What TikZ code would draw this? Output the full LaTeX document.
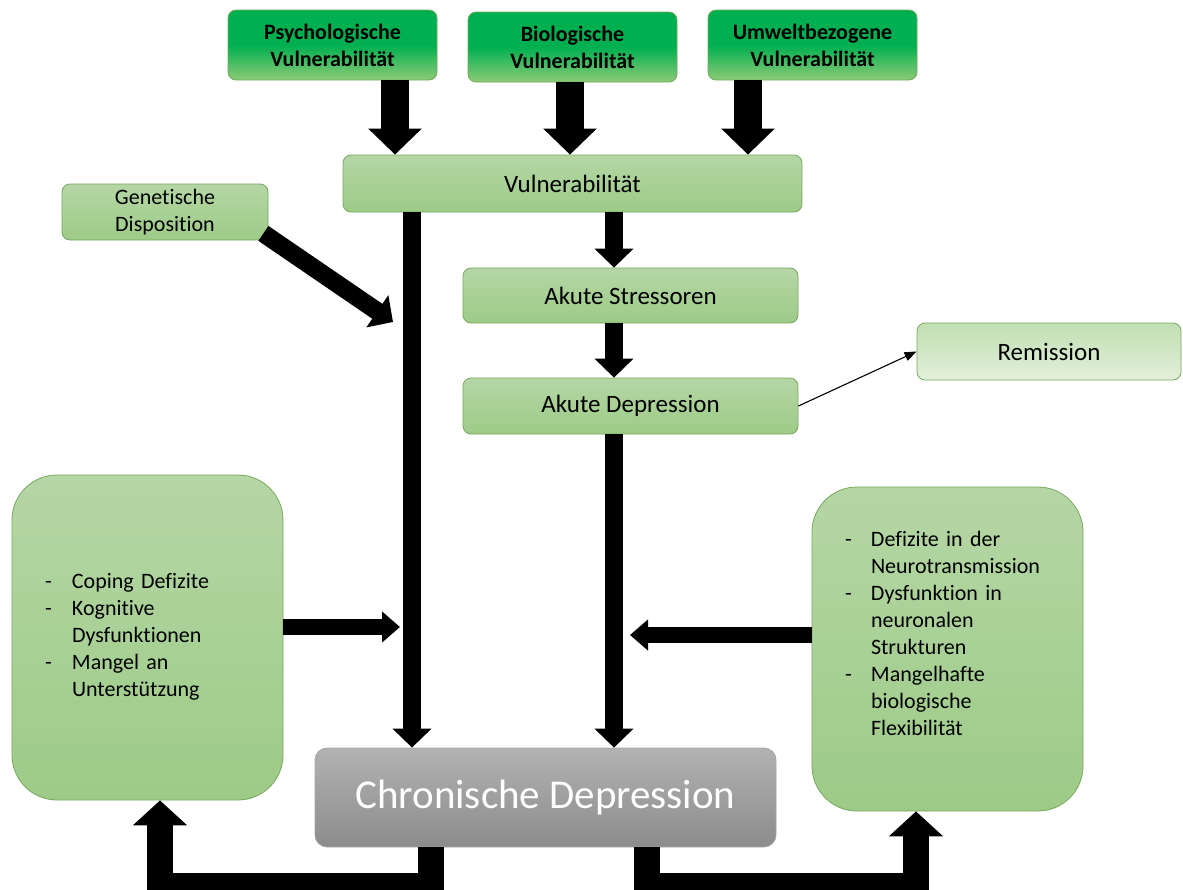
\documentclass[tikz,border=0pt]{standalone}
\usepackage{fontspec}
\setmainfont{Carlito}[Ligatures=NoCommon]
\usepackage{array}
\usetikzlibrary{calc}
\usetikzlibrary{positioning}
\usetikzlibrary{arrows.meta}
\definecolor{vgreen}{RGB}{0,176,80}
\definecolor{vgreenlow}{RGB}{140,202,118}
\definecolor{boxtop}{RGB}{181,214,165}
\definecolor{boxbottom}{RGB}{157,203,135}
\definecolor{boxline}{RGB}{118,168,95}
\definecolor{remtop}{RGB}{193,223,178}
\definecolor{rembottom}{RGB}{226,240,218}
\definecolor{chrontop}{RGB}{178,178,178}
\definecolor{chronbottom}{RGB}{140,140,140}
\def\bigfont{\fontsize{25}{30}\selectfont}
\def\smallfont{\fontsize{22}{27}\selectfont}

\begin{document}
\begin{tikzpicture}[x=1pt,y=-1pt,line join=miter,
	  base node/.style={rectangle,draw=boxline,line width=0.8pt,rounded corners=8pt,inner sep=0pt,align=center,
	    top color=boxtop,bottom color=boxbottom,font=\bigfont},
	  top node/.style={base node,top color=vgreen,bottom color=vgreenlow,middle color=vgreen,
	    minimum width=209pt,minimum height=70pt,font=\smallfont\bfseries},
	  list node/.style={base node,rounded corners=45pt,minimum width=271pt,minimum height=324pt,
	    text width=205pt,inner xsep=33pt,align=left,font=\smallfont},
	  fat edge/.style={-{Triangle[length=26pt,width=52pt]},line width=28pt},
	  mid edge/.style={-{Triangle[length=19pt,width=38pt]},line width=18pt},
	  side edge/.style={-{Triangle[length=18pt,width=30pt]},line width=16pt},
	  loop edge/.style={-{Triangle[length=25pt,width=53pt]},line width=26pt},
	  thin edge/.style={-{Triangle[length=12pt,width=9pt]},line width=1.1pt}]

	  \clip (0,0) rectangle (1183,889);

	  \node[top node] (psych) at (332.5,45) {Psychologische\\Vulnerabilität};
	  \node[top node] (bio) at (572.5,47) {Biologische\\Vulnerabilität};
	  \node[top node] (umwelt) at (812.5,45) {Umweltbezogene\\Vulnerabilität};
	  \node[base node,minimum width=459pt,minimum height=57pt] (vuln) at (572.5,183.5) {Vulnerabilität};
	  \node[base node,minimum width=206pt,minimum height=56pt,font=\smallfont] (gen) at (165,212) {Genetische\\Disposition};
	  \node[base node,minimum width=335pt,minimum height=55pt] (stress) at (630.5,295.5) {Akute Stressoren};
	  \node[base node,minimum width=335pt,minimum height=56pt] (akdep) at (630.5,406) {Akute Depression};
	  \node[base node,top color=remtop,bottom color=rembottom,minimum width=264pt,minimum height=57pt] (remis) at (1049,351.5) {Remission};
	  \node[list node,minimum height=325pt] (left) at (147.5,637.5) {%
	    \begin{tabular}{@{}p{27pt}@{}l@{}}
	    - & Coping Defizite\\
	    - & Kognitive\\
	      & Dysfunktionen\\
	    - & Mangel an\\
	      & Unterstützung
	    \end{tabular}};
	  \node[list node] (right) at (947.5,649) {%
	    \begin{tabular}{@{}p{26pt}@{}l@{}}
	    - & Defizite in der\\
	      & Neurotransmission\\
	    - & Dysfunktion in\\
	      & neuronalen\\
	      & Strukturen\\
	    - & Mangelhafte\\
	      & biologische\\
	      & Flexibilität\\
	      &
	    \end{tabular}};
	  \node[base node,rounded corners=12pt,top color=chrontop,bottom color=chronbottom,draw=gray!70,
	    minimum width=461pt,minimum height=99pt,text=white,font=\fontsize{41}{48}\selectfont] (chron) at (545.5,797.5) {Chronische Depression};

	  \coordinate (genhit) at (393,322);
	  \coordinate (lefthit) at (400,627);
	  \coordinate (righthit) at (630,635);

	  \path[fat edge]
	    	([xshift=62.5pt]psych.south) 	edge 	([xshift=62.5pt]psych.south |- vuln.north)
	 	([xshift=-2.5pt]bio.south) 	edge 	([xshift=-2.5pt]bio.south |- vuln.north)
	 	([xshift=-64.5pt]umwelt.south) 	edge 	([xshift=-64.5pt]umwelt.south |- vuln.north);

	  \path[mid edge]
	    	([xshift=41.5pt]vuln.south) 	edge 	([xshift=-16.5pt]stress.north)
	 	([xshift=-16.5pt]stress.south) 	edge 	([xshift=-16.5pt]akdep.north)
	 	([xshift=-16.5pt]akdep.south) 	edge 	([xshift=68.5pt]chron.north)
	 	([xshift=-160.5pt]vuln.south) 	edge 	([xshift=-133.5pt]chron.north)
	 	($ (gen.south east) + (-5,-7) $) edge 	(genhit);

	  \path[side edge]
	    	([yshift=10.5pt]left.east) 	edge 	(lefthit)
	 	([yshift=14pt]right.west) 	edge 	(righthit);

	  \draw[loop edge] ([xshift=-114.5pt]chron.south) -- ++(0,39) -| ([xshift=12.5pt]left.south);
	  \draw[loop edge] ([xshift=101.5pt]chron.south) -- ++(0,39) -| ([xshift=-31.5pt]right.south);

	  \draw[thin edge] (akdep.east) -- (remis.west);
	\end{tikzpicture}
\end{document}
